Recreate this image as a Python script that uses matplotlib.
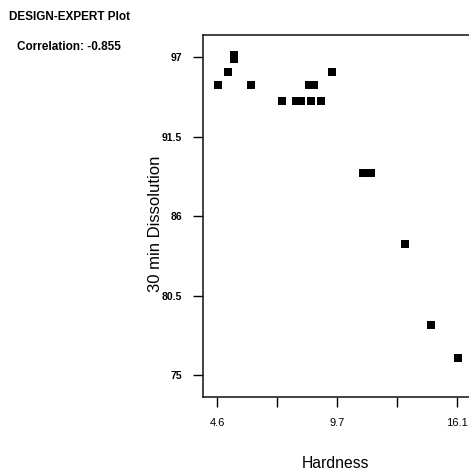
import numpy as np
import matplotlib
matplotlib.use('Agg')
import matplotlib.pyplot as plt

plt.rcParams['font.family'] = ['Liberation Sans', 'DejaVu Sans']

# Hardness vs 30 min dissolution
hardness = [4.63, 5.13, 5.41, 5.41, 6.20, 7.71, 8.39, 8.61, 9.10, 9.58,
            9.02, 9.23, 10.08, 11.58, 11.96, 13.59, 14.86, 16.12]
dissolution = [95.1, 96.0, 97.2, 96.9, 95.1, 94.0, 94.0, 94.0, 94.0, 94.0,
               95.1, 95.1, 96.0, 89.0, 89.0, 84.1, 78.5, 76.2]

y_ticks = [97, 91.5, 86, 80.5, 75]
y_labels = ['97', '91.5', '86', '80.5', '75']
x_labels = ['4.6', '', '9.7', '', '16.1']

fig = plt.figure(figsize=(4.69, 4.73), dpi=100)
ax = fig.add_axes([0.432, 0.161, 0.61, 0.764])

ax.scatter(hardness, dissolution, marker='s', s=30, color='black',
           linewidths=0)

ax.set_xlim(3.90, 3.90 + 0.61 * 469 / 20.87)
ax.set_ylim(75 - (396.7 - 375) / 14.44, 97 + (57.3 - 35.3) / 14.44)

ax.set_xticks(np.linspace(4.6, 16.1, 5))
ax.set_xticklabels(x_labels, fontsize=8)
ax.set_yticks(y_ticks)
ax.set_yticklabels(y_labels, fontsize=7.5, fontweight='bold')
ax.tick_params(direction='out', length=7, width=1, pad=8)

for s in ax.spines.values():
    s.set_linewidth(1.2)
    s.set_color('#222222')

fig.text(155 / 469, 1 - 224 / 473, '30 min Dissolution', fontsize=12,
         rotation=90, ha='center', va='center')
fig.text(335 / 469, 1 - 463 / 473, 'Hardness', fontsize=11.3,
         ha='center', va='center')

fig.text(0.02, 0.965, 'DESIGN-EXPERT Plot', fontsize=8.5, fontweight='bold',
         va='center')
fig.text(0.036, 0.9, 'Correlation: -0.855', fontsize=8.5, fontweight='bold',
         va='center')

fig.savefig('out.png', dpi=100)
